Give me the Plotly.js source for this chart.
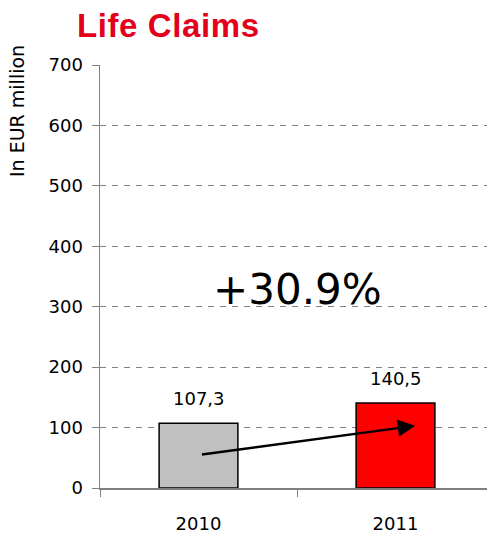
<!DOCTYPE html>
<html>
<head>
<meta charset="utf-8">
<script src="https://cdn.plot.ly/plotly-3.0.1.min.js"></script>
<style>
html,body{margin:0;padding:0;overflow:hidden;background:#fff;}
#chart{width:494px;height:533px;}
.gtitle{letter-spacing:0.6px;}
</style>
</head>
<body>
<div id="chart"></div>
<script>
const categories = ["2010", "2011"];
const values = [107.3, 140.5];
const valueLabels = ["107,3", "140,5"];
const barColors = ["#C0C0C0", "#FF0000"];
const yTicks = [0, 100, 200, 300, 400, 500, 600, 700];
const growthLabel = "+30.9%";
const arrowFrom = [0.01, 55];
const arrowTo = [1.1, 103];

const xIdx = categories.map((c, i) => i);

const trace = {
  type: "bar",
  x: xIdx,
  y: values,
  width: 0.4,
  marker: {color: barColors, line: {color: "#000000", width: 1.5}},
  hoverinfo: "skip"
};

const annotations = xIdx.map((xi, i) => ({
  x: xi, y: values[i], xref: "x", yref: "y",
  text: valueLabels[i], showarrow: false,
  xanchor: "center", yanchor: "bottom", yshift: 12,
  font: {family: "DejaVu Sans", size: 18, color: "#000"}
}));

annotations.push({
  x: arrowTo[0], y: arrowTo[1], ax: arrowFrom[0], ay: arrowFrom[1],
  xref: "x", yref: "y", axref: "x", ayref: "y",
  text: "", showarrow: true, arrowhead: 2, arrowsize: 1.4, arrowwidth: 2.5,
  arrowcolor: "#000", standoff: 0
});

annotations.push({
  x: 0.5, y: 329, xref: "x", yref: "y", text: growthLabel, showarrow: false,
  xanchor: "center", yanchor: "middle",
  font: {family: "DejaVu Sans", size: 42, color: "#000"}
});

annotations.push({
  x: (17 - 100) / 394, y: 1 - (111 - 65) / 423, xref: "paper", yref: "paper",
  xanchor: "center", yanchor: "middle",
  text: "In EUR million", showarrow: false, textangle: -90,
  font: {family: "DejaVu Sans", size: 19, color: "#000"}
});

const layout = {
  width: 494, height: 533,
  margin: {l: 100, r: 0, t: 65, b: 45},
  paper_bgcolor: "#fff", plot_bgcolor: "#fff",
  showlegend: false,
  title: {
    text: "Life Claims",
    font: {family: "Liberation Sans", size: 33, color: "#E2001A", weight: "bold"},
    xref: "container", yref: "container", x: 77 / 494, xanchor: "left",
    y: 0.974, yanchor: "top", pad: {t: 0, b: 0, l: 0, r: 0}
  },
  xaxis: {
    type: "linear", range: [-0.5, 1.5],
    tickvals: xIdx, ticktext: categories,
    showline: true, linecolor: "#808080", linewidth: 1.5,
    ticks: "", ticklabelstandoff: 19,
    minor: {ticks: "outside", tick0: -0.5, dtick: 1, ticklen: 7, tickcolor: "#808080", showgrid: false},
    showgrid: false, zeroline: false,
    tickfont: {family: "DejaVu Sans", size: 18, color: "#000"}
  },
  yaxis: {
    range: [0, 700], tickvals: yTicks, ticktext: yTicks.map(String),
    showline: true, linecolor: "#808080", linewidth: 1.5,
    ticks: "outside", ticklen: 7, tickcolor: "#808080",
    ticklabelstandoff: 5,
    showgrid: true, gridcolor: "#808080", gridwidth: 1, griddash: "6px,6px",
    zeroline: false,
    tickfont: {family: "DejaVu Sans", size: 18, color: "#000"}
  },
  annotations: annotations
};

Plotly.newPlot("chart", [trace], layout, {displayModeBar: false, staticPlot: true});
</script>
</body>
</html>
